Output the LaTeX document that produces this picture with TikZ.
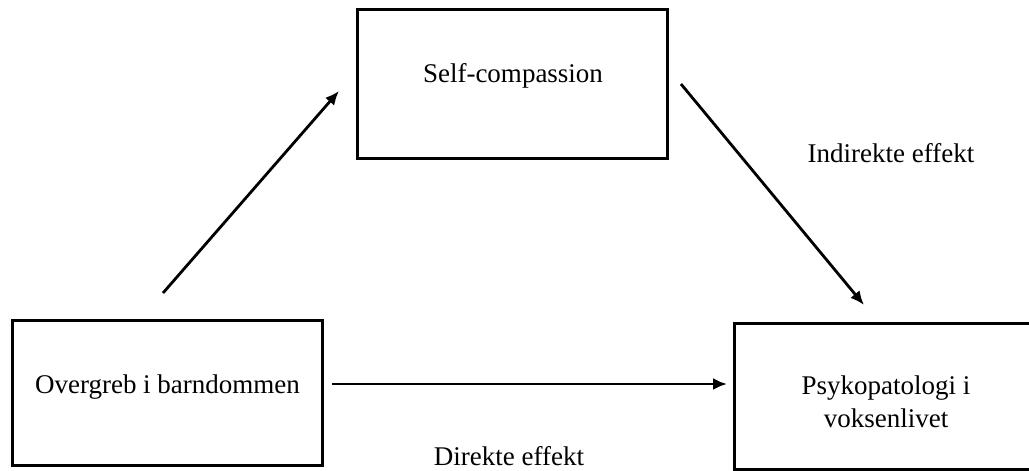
\documentclass[tikz,border=0pt]{standalone}
\usepackage{fontspec}
\setmainfont{Liberation Serif}
\usetikzlibrary{arrows.meta}
\tikzset{
  box/.style={draw=black, line width=3pt, inner sep=0pt, fill=white},
  lbl/.style={font=\fontsize{27}{33}\selectfont, inner sep=0pt, align=center},
  conn/.style={line width=2.8pt, -{Latex[length=14pt,width=12pt]}}
}
\begin{document}
\begin{tikzpicture}[x=1pt,y=-1pt]
\useasboundingbox (0,0) rectangle (1029,471);
% boxes
\node[box, minimum width=310pt, minimum height=149pt] (sc) at (512,83.5) {};
\node[box, minimum width=310pt, minimum height=145pt] (ov) at (167,392.5) {};
\node[box, minimum width=326pt, minimum height=146pt] (ps) at (897,396) {};
% texts
\node[lbl, anchor=base] (sct) at (513,82) {Self-compassion};
\node[lbl, anchor=base] (ovt) at (167.5,393) {Overgreb i barndommen};
\node[lbl] (pst) at (886,402) {Psykopatologi i\\voksenlivet};
\node[lbl, anchor=base] (ind) at (891,162) {Indirekte effekt};
\node[lbl, anchor=base] (dir) at (509,465) {Direkte effekt};
% connector ends
\coordinate (a1s) at (163,293);
\coordinate (a1e) at (339,91);
\coordinate (a2s) at (681,84);
\coordinate (a2e) at (864,305);
\coordinate (a3s) at (332,384);
\coordinate (a3e) at (727,384);
\draw[conn] (a1s) -- (a1e);
\draw[conn] (a2s) -- (a2e);
\draw[conn] (a3s) -- (a3e);
\end{tikzpicture}
\end{document}
